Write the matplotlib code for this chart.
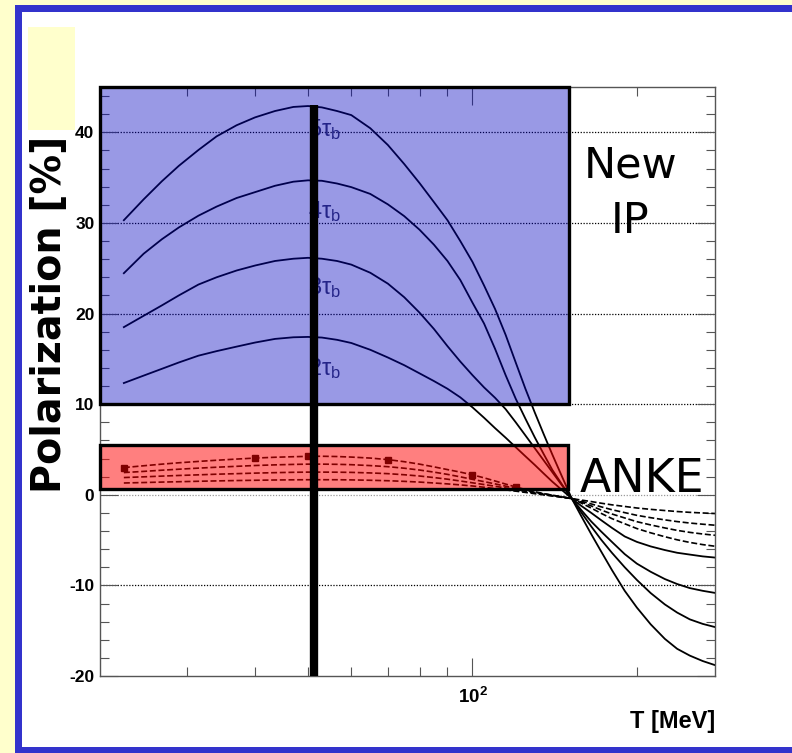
"""Spin-filtering polarization build-up vs. beam energy: New IP vs. ANKE target."""
import matplotlib
matplotlib.use("Agg")
import matplotlib.pyplot as plt
from matplotlib.patches import Rectangle
from matplotlib.ticker import MultipleLocator, NullFormatter

plt.rcParams.update({
    "font.family": ["Liberation Sans", "DejaVu Sans"],
    "mathtext.fontset": "custom",
    "mathtext.rm": "Liberation Sans",
    "mathtext.bf": "Liberation Sans:bold",
    "mathtext.it": "Liberation Sans:italic",
})

W, H = 792, 753  # canvas in pixels

# beam kinetic energy grid (MeV)
T_MEV = [23, 25, 27, 29, 31.5, 34, 37, 40, 43.5, 47, 50, 53, 56.5, 60, 65, 70, 75, 80,
         85, 90, 95, 100, 105, 110, 115, 120, 125, 130, 135, 140, 146, 152, 158, 165,
         172, 180, 190, 200, 212, 225, 237, 250, 264, 278]

# polarization [%] after n beam lifetimes, New IP (solid)
pol_5tau = [30.3, 32.6, 34.6, 36.3, 38.05, 39.55, 40.78, 41.65, 42.35, 42.8, 42.9,
            42.75, 42.35, 41.9, 40.45, 38.6, 36.5, 34.4, 32.3, 30.3, 28.0, 25.7, 23.1,
            20.5, 17.65, 14.6, 11.7, 9.1, 6.7, 4.45, 1.95, -0.42, -2.3, -4.35, -6.25,
            -8.3, -10.6, -12.45, -14.3, -15.9, -17.0, -17.75, -18.35, -18.8]
pol_4tau = [24.45, 26.6, 28.2, 29.5, 30.8, 31.8, 32.75, 33.4, 34.1, 34.55, 34.7,
            34.65, 34.35, 33.95, 33.2, 32.05, 30.75, 29.25, 27.6, 25.8, 23.7, 21.2, 18.9,
            16.1, 13.2, 10.6, 8.4, 6.35, 4.5, 2.75, 1.1, -0.42, -1.9, -3.5, -4.95,
            -6.4, -8.0, -9.4, -10.85, -12.1, -13.0, -13.75, -14.25, -14.6]
pol_3tau = [18.5, 19.75, 20.9, 22.0, 23.2, 24.0, 24.75, 25.3, 25.8, 26.05, 26.15,
            26.05, 25.8, 25.4, 24.5, 23.3, 21.8, 20.1, 18.3, 16.4, 14.7, 13.2, 11.85,
            10.7, 9.45, 8.0, 6.55, 5.15, 3.8, 2.5, 1.0, -0.42, -1.65, -2.95, -4.05,
            -5.2, -6.55, -7.6, -8.5, -9.3, -9.85, -10.3, -10.6, -10.83]
pol_2tau = [12.33, 13.15, 13.9, 14.6, 15.35, 15.85, 16.35, 16.8, 17.2, 17.38, 17.42,
            17.35, 17.1, 16.75, 16.0, 15.15, 14.3, 13.4, 12.55, 11.7, 10.75, 9.65, 8.5,
            7.35, 6.3, 5.25, 4.25, 3.3, 2.35, 1.45, 0.5, -0.42, -1.2, -2.0, -2.8,
            -3.65, -4.6, -5.2, -5.7, -6.1, -6.4, -6.6, -6.8, -6.93]

# same at ANKE (dashed)
anke_5tau = [3.0, 3.2, 3.38, 3.53, 3.68, 3.81, 3.94, 4.05, 4.14, 4.2, 4.24, 4.25, 4.22,
             4.16, 4.05, 3.88, 3.65, 3.38, 3.08, 2.78, 2.5, 2.2, 1.87, 1.52, 1.18, 0.86,
             0.58, 0.34, 0.13, -0.05, -0.24, -0.42, -0.9, -1.47, -2.05, -2.63, -3.2,
             -3.73, -4.2, -4.63, -4.97, -5.26, -5.5, -5.68]
anke_4tau = [2.45, 2.58, 2.71, 2.82, 2.94, 3.04, 3.14, 3.23, 3.3, 3.35, 3.38, 3.38, 3.36,
             3.32, 3.22, 3.1, 2.93, 2.73, 2.5, 2.25, 1.98, 1.7, 1.45, 1.2, 0.95, 0.7,
             0.48, 0.28, 0.1, -0.05, -0.24, -0.42, -0.8, -1.23, -1.68, -2.12, -2.56,
             -2.97, -3.33, -3.66, -3.93, -4.15, -4.33, -4.47]
anke_3tau = [1.9, 1.98, 2.06, 2.13, 2.2, 2.27, 2.33, 2.39, 2.44, 2.48, 2.5, 2.5, 2.49,
             2.47, 2.41, 2.33, 2.21, 2.07, 1.9, 1.72, 1.52, 1.32, 1.13, 0.94, 0.75, 0.56,
             0.38, 0.2, 0.05, -0.1, -0.26, -0.42, -0.7, -1.01, -1.33, -1.65, -1.97,
             -2.27, -2.53, -2.77, -2.96, -3.12, -3.25, -3.36]
anke_2tau = [1.3, 1.35, 1.4, 1.44, 1.49, 1.53, 1.57, 1.6, 1.63, 1.65, 1.66, 1.66, 1.66,
             1.64, 1.6, 1.55, 1.48, 1.4, 1.3, 1.2, 1.09, 0.97, 0.83, 0.68, 0.54, 0.4,
             0.26, 0.12, -0.01, -0.14, -0.28, -0.42, -0.58, -0.75, -0.93, -1.11, -1.29,
             -1.46, -1.61, -1.74, -1.85, -1.94, -2.01, -2.07]
anke_marks = [0, 7, 10, 15, 21, 25]   # computed points on the 5 tau ANKE curve

tau_names = ["5", "4", "3", "2"]
tau_label_y = [39.6, 30.5, 22.2, 13.2]
tau_label_t = 50.0

# highlighted regions
T_MIN, T_MAX = 20.8, 278
box_t_max = 150
new_ip_range = (10, 45)
anke_range = (0.6, 5.5)
cut_t, cut_top = 51.2, 43

fig = plt.figure(figsize=(W / 100, H / 100), dpi=100, facecolor="white")


def _strip(x0, y0, x1, y1, color):
    """Filled band given in pixel coordinates (origin top-left)."""
    fig.add_artist(Rectangle((x0 / W, 1 - y1 / H), (x1 - x0) / W, (y1 - y0) / H,
                             transform=fig.transFigure, fc=color, ec="none", zorder=10))


# slide frame
_strip(0, 0, 15, H, "#ffffcc")
_strip(0, 0, W, 5, "#ffffcc")
_strip(15, 5, 22, H, "#3333cc")
_strip(15, 5, W, 12, "#3333cc")
_strip(15, 747, W, H, "#3333cc")

ax = fig.add_axes([100 / W, 77 / H, 615 / W, 589 / H])
ax.set_xscale("log")
ax.set_xlim(T_MIN, T_MAX)
ax.set_ylim(-20, 45)

for yv in [-10, 0, 10, 20, 30, 40]:
    ax.axhline(yv, color="#999999" if yv == 0 else "k", lw=0.9,
               ls=(0, (1, 1.3)), zorder=1.5)

for vals in (pol_5tau, pol_4tau, pol_3tau, pol_2tau):
    ax.plot(T_MEV, vals, color="k", lw=1.3, zorder=2)
for vals in (anke_5tau, anke_4tau, anke_3tau, anke_2tau):
    ax.plot(T_MEV, vals, color="k", lw=1.2, ls=(0, (3.6, 1.6)), zorder=2)
ax.plot(T_MEV, anke_5tau, ls="none", marker="s", ms=4.5, color="k",
        markevery=anke_marks, zorder=2)

for name, yv in zip(tau_names, tau_label_y):
    ax.text(tau_label_t, yv, name + "τ$_\\mathrm{b}$", fontsize=17, color="#3c3c64",
            ha="left", va="baseline", zorder=2)

# translucent acceptance boxes drawn over the curves
ax.add_patch(Rectangle((T_MIN, new_ip_range[0]), box_t_max - T_MIN,
                       new_ip_range[1] - new_ip_range[0], fc=(0, 0, 0.75, 0.4),
                       ec="k", lw=2.4, zorder=3, clip_on=False))
ax.add_patch(Rectangle((T_MIN, anke_range[0]), box_t_max - 0.5 - T_MIN,
                       anke_range[1] - anke_range[0], fc=(1, 0, 0, 0.5),
                       ec="k", lw=2.4, zorder=3, clip_on=False))

ax.plot([cut_t, cut_t], [-20, cut_top], color="k", lw=6, solid_capstyle="butt", zorder=6)

ax.text(0.862, 0.847, "New", transform=ax.transAxes, ha="center", va="baseline",
        fontsize=31, family="DejaVu Sans", zorder=7)
ax.text(0.862, 0.752, "IP", transform=ax.transAxes, ha="center", va="baseline",
        fontsize=31, family="DejaVu Sans", zorder=7)
ax.text(0.7805, 0.3124, "ANKE", transform=ax.transAxes, ha="left", va="baseline",
        fontsize=33, family="DejaVu Sans", zorder=7)

for sp in ax.spines.values():
    sp.set_color("#555555")
    sp.set_linewidth(1.0)
ax.yaxis.set_major_locator(MultipleLocator(10))
ax.yaxis.set_minor_locator(MultipleLocator(2))
ax.set_yticks([-20, -10, 0, 10, 20, 30, 40])
ax.set_yticklabels(["-20", "-10", "0", "10", "20", "30", "40"])
ax.set_xticks([100])
ax.set_xticklabels([r"$\mathbf{10^{2}}$"])
ax.xaxis.set_minor_formatter(NullFormatter())
ax.tick_params(which="both", direction="in", top=True, right=True, color="#555555",
               width=0.8)
ax.tick_params(which="major", length=13)
ax.tick_params(which="minor", length=6.5)
ax.tick_params(axis="y", pad=4, labelsize=12.5)
ax.tick_params(axis="x", pad=8, labelsize=13.5)
for lab in ax.get_yticklabels():
    lab.set_fontweight("bold")

ax.text(1.0, -0.078, "T [MeV]", transform=ax.transAxes, ha="right", va="center",
        fontsize=17, fontweight="bold")

fig.text(50 / W, 1 - 314 / H, "Polarization [%]", rotation=90, ha="center",
         va="center", fontsize=28.5, fontweight="bold", family="DejaVu Sans")
_strip(28, 27, 75, 130, "#ffffcc")

fig.savefig("out.png", dpi=100)
